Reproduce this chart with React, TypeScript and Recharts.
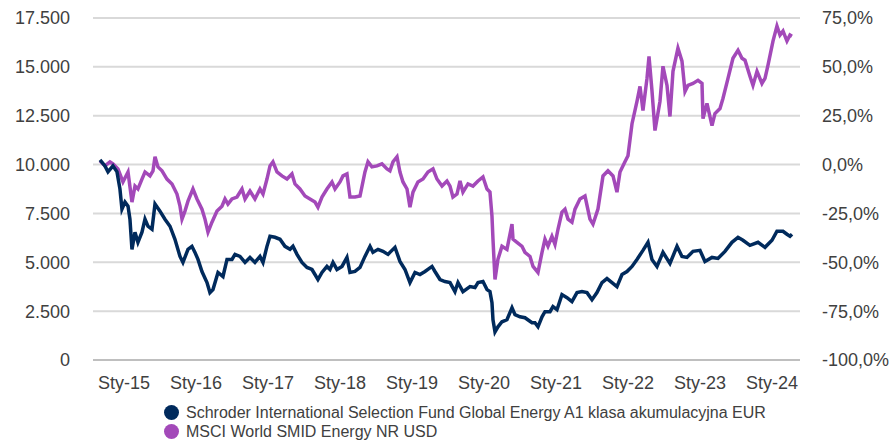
import React from 'react';
import { LineChart, Line, XAxis, YAxis, CartesianGrid } from 'recharts';

// Schroder fund: value of 10 000 invested, [decimal year, value]
const fundPoints: [number, number][] = [
  [2014.667, 10243], [2014.736, 9934], [2014.778, 9625], [2014.847, 9934], [2014.903, 9625],
  [2014.944, 8750], [2014.972, 7721], [2015.014, 8081], [2015.056, 7875], [2015.083, 7206],
  [2015.111, 5662], [2015.153, 6537], [2015.194, 6022], [2015.25, 6537], [2015.292, 7206],
  [2015.333, 6846], [2015.389, 6691], [2015.431, 7978], [2015.5, 7618], [2015.569, 7206],
  [2015.639, 6846], [2015.708, 6176], [2015.778, 5301], [2015.819, 4993], [2015.889, 5662],
  [2015.944, 5816], [2015.986, 5507], [2016.028, 5147], [2016.083, 4529], [2016.153, 3963],
  [2016.194, 3448], [2016.236, 3603], [2016.306, 4478], [2016.375, 4272], [2016.431, 5147],
  [2016.5, 5147], [2016.542, 5404], [2016.611, 5301], [2016.681, 4993], [2016.75, 5250],
  [2016.819, 4993], [2016.889, 5301], [2016.931, 4993], [2016.986, 5816], [2017.028, 6331],
  [2017.097, 6279], [2017.167, 6176], [2017.236, 5816], [2017.306, 5662], [2017.347, 5816],
  [2017.403, 5404], [2017.472, 4993], [2017.542, 4735], [2017.611, 4632], [2017.653, 4375],
  [2017.694, 4118], [2017.75, 4478], [2017.819, 4787], [2017.861, 4632], [2017.903, 4993],
  [2017.958, 4632], [2018.028, 4787], [2018.097, 5250], [2018.139, 4478], [2018.208, 4529],
  [2018.278, 4735], [2018.347, 5301], [2018.417, 5816], [2018.458, 5507], [2018.528, 5662],
  [2018.597, 5559], [2018.667, 5404], [2018.694, 5507], [2018.764, 5765], [2018.833, 5044],
  [2018.903, 4632], [2018.972, 3963], [2019.042, 4478], [2019.111, 4375], [2019.181, 4529],
  [2019.278, 4787], [2019.319, 4529], [2019.389, 4118], [2019.458, 4015], [2019.528, 3963],
  [2019.597, 3500], [2019.639, 3963], [2019.708, 3500], [2019.806, 3757], [2019.875, 3706],
  [2019.917, 3963], [2019.986, 4015], [2020.042, 3603], [2020.083, 3500], [2020.111, 2934],
  [2020.125, 2059], [2020.153, 1441], [2020.194, 1699], [2020.25, 1956], [2020.319, 2059],
  [2020.389, 2676], [2020.431, 2316], [2020.5, 2213], [2020.569, 2162], [2020.667, 1904],
  [2020.708, 1904], [2020.75, 1699], [2020.806, 2213], [2020.847, 2471], [2020.917, 2471],
  [2020.958, 2728], [2021.014, 2574], [2021.083, 3346], [2021.153, 3191], [2021.222, 2985],
  [2021.292, 3448], [2021.361, 3500], [2021.431, 3448], [2021.5, 3088], [2021.569, 3448],
  [2021.639, 3963], [2021.708, 4169], [2021.778, 3963], [2021.847, 3757], [2021.917, 4375],
  [2021.986, 4529], [2022.056, 4787], [2022.125, 5147], [2022.208, 5610], [2022.278, 6022],
  [2022.333, 5147], [2022.403, 4787], [2022.486, 5507], [2022.583, 4941], [2022.681, 5816],
  [2022.75, 5301], [2022.819, 5250], [2022.903, 5559], [2023.0, 5610], [2023.069, 5044],
  [2023.167, 5250], [2023.25, 5198], [2023.347, 5559], [2023.444, 6022], [2023.528, 6279],
  [2023.597, 6125], [2023.694, 5868], [2023.806, 6022], [2023.903, 5765], [2024.0, 6125],
  [2024.069, 6588], [2024.153, 6588], [2024.208, 6434], [2024.25, 6331], [2024.278, 6434],
];

// MSCI World SMID Energy: cumulative return in %, [decimal year, pct]
const indexPoints: [number, number][] = [
  [2014.667, 1.9], [2014.736, -0.7], [2014.806, 1.4], [2014.847, 0.4], [2014.917, -2.2],
  [2014.986, -8.9], [2015.042, -4.8], [2015.056, -3.8], [2015.111, -19.2], [2015.153, -11.0],
  [2015.194, -12.5], [2015.25, -7.4], [2015.292, -3.8], [2015.361, -5.8], [2015.403, -3.2],
  [2015.431, 4.0], [2015.472, -1.2], [2015.528, -3.2], [2015.597, -7.4], [2015.667, -9.9],
  [2015.736, -15.1], [2015.778, -21.3], [2015.806, -27.9], [2015.847, -23.8], [2015.889, -18.7],
  [2015.958, -12.5], [2016.014, -17.6], [2016.083, -22.8], [2016.125, -27.9], [2016.167, -34.6],
  [2016.222, -29.5], [2016.292, -23.8], [2016.361, -21.3], [2016.403, -17.6], [2016.444, -20.2],
  [2016.5, -17.6], [2016.569, -16.6], [2016.639, -12.5], [2016.681, -17.6], [2016.75, -13.5],
  [2016.819, -17.6], [2016.889, -12.5], [2016.931, -15.1], [2016.986, -7.4], [2017.028, -0.7],
  [2017.069, 1.4], [2017.125, -3.8], [2017.194, -5.8], [2017.264, -7.4], [2017.333, -4.8],
  [2017.375, -9.9], [2017.444, -12.5], [2017.514, -16.1], [2017.583, -17.6], [2017.653, -19.2],
  [2017.694, -21.8], [2017.75, -16.6], [2017.819, -12.5], [2017.889, -8.9], [2017.931, -12.5],
  [2018.0, -8.9], [2018.042, -5.8], [2018.097, -4.8], [2018.139, -16.6], [2018.208, -16.6],
  [2018.278, -16.1], [2018.347, -3.8], [2018.389, 1.4], [2018.444, -1.2], [2018.514, -0.7],
  [2018.583, 0.4], [2018.653, -2.2], [2018.694, -3.2], [2018.736, 1.4], [2018.792, 4.0],
  [2018.833, -3.8], [2018.875, -8.9], [2018.931, -12.5], [2018.972, -21.8], [2019.014, -14.1],
  [2019.083, -8.9], [2019.153, -7.4], [2019.222, -3.8], [2019.292, -2.2], [2019.347, -7.4],
  [2019.417, -11.0], [2019.486, -8.4], [2019.528, -11.0], [2019.569, -16.6], [2019.625, -15.1],
  [2019.667, -8.4], [2019.708, -14.1], [2019.778, -9.9], [2019.847, -11.0], [2019.917, -8.4],
  [2019.986, -6.3], [2020.042, -12.5], [2020.083, -14.1], [2020.111, -26.4], [2020.125, -38.2],
  [2020.153, -58.8], [2020.194, -48.5], [2020.25, -41.8], [2020.319, -43.4], [2020.389, -30.5],
  [2020.403, -38.2], [2020.458, -39.8], [2020.528, -41.8], [2020.569, -44.9], [2020.639, -47.0],
  [2020.681, -52.1], [2020.75, -55.2], [2020.806, -44.9], [2020.847, -38.2], [2020.889, -41.8],
  [2020.944, -36.7], [2020.986, -40.8], [2021.028, -33.1], [2021.083, -24.3], [2021.125, -22.8],
  [2021.167, -27.9], [2021.222, -29.5], [2021.264, -22.8], [2021.333, -17.6], [2021.403, -16.1],
  [2021.472, -27.9], [2021.514, -30.5], [2021.583, -22.8], [2021.653, -5.8], [2021.722, -3.2],
  [2021.792, -5.8], [2021.847, -14.1], [2021.889, -3.8], [2021.958, 1.4], [2022.0, 4.5],
  [2022.056, 20.9], [2022.125, 32.3], [2022.167, 40.0], [2022.208, 27.7], [2022.264, 44.1],
  [2022.292, 55.4], [2022.333, 37.9], [2022.375, 17.4], [2022.444, 32.3], [2022.486, 50.3],
  [2022.542, 40.5], [2022.583, 24.6], [2022.625, 47.7], [2022.694, 59.6], [2022.75, 52.9],
  [2022.792, 37.4], [2022.833, 40.5], [2022.903, 41.5], [2022.972, 43.1], [2023.028, 41.5],
  [2023.042, 23.5], [2023.097, 31.3], [2023.167, 19.9], [2023.208, 26.1], [2023.278, 28.7],
  [2023.319, 33.8], [2023.389, 44.1], [2023.458, 54.4], [2023.528, 58.5], [2023.583, 54.4],
  [2023.625, 53.4], [2023.694, 45.2], [2023.736, 40.5], [2023.792, 47.7], [2023.861, 41.5],
  [2023.903, 44.1], [2023.944, 50.8], [2024.014, 63.2], [2024.069, 70.9], [2024.111, 66.3],
  [2024.153, 68.3], [2024.208, 63.2], [2024.25, 66.3], [2024.278, 65.7],
];

const yearTicks = [2015, 2016, 2017, 2018, 2019, 2020, 2021, 2022, 2023, 2024];
const leftTicks = [0, 2500, 5000, 7500, 10000, 12500, 15000, 17500];
const rightTicks = [-100, -75, -50, -25, 0, 25, 50, 75];

const fundName = 'Schroder International Selection Fund Global Energy A1 klasa akumulacyjna EUR';
const indexName = 'MSCI World SMID Energy NR USD';

const NAVY = '#002a5c';
const PURPLE = '#a349b9';
const FONT = '"Liberation Sans", Arial, sans-serif';

const fundData = fundPoints.map(([t, v]) => ({ t, fund: v }));
const indexData = indexPoints.map(([t, p]) => ({ t, index: p }));

const fmtLeft = (v: number) =>
  v === 0 ? '0' : `${Math.floor(v / 1000)}.${String(v % 1000).padStart(3, '0')}`;
const fmtRight = (v: number) => `${v.toFixed(1).replace('.', ',')}%`;
const fmtYear = (v: number) => `Sty-${String(v).slice(2)}`;

const App: React.FC = () => {
  const tickStyle = { fontSize: 18, fill: '#404040', fontFamily: FONT };
  return (
    <div style={{ position: 'absolute', left: 0, top: 0, width: 895, height: 442, background: '#fff', fontFamily: FONT }}>
      <LineChart width={895} height={442} margin={{ top: 18, right: 0, left: 0, bottom: 42 }}>
        <CartesianGrid yAxisId="left" vertical={false} stroke="#d9d9d9" strokeWidth={2} />
        <XAxis
          dataKey="t"
          type="number"
          domain={[2014.667, 2024.278]}
          ticks={yearTicks}
          tickFormatter={fmtYear}
          allowDuplicatedCategory={false}
          padding={{ left: 7, right: 8 }}
          height={40}
          tickLine={false}
          tickSize={0}
          tickMargin={16}
          axisLine={{ stroke: '#bfbfbf', strokeWidth: 2 }}
          tick={tickStyle}
        />
        <YAxis
          yAxisId="left"
          domain={[0, 17500]}
          ticks={leftTicks}
          tickFormatter={fmtLeft}
          width={93}
          axisLine={false}
          tickLine={false}
          tickSize={0}
          tickMargin={23}
          tick={tickStyle}
        />
        <YAxis
          yAxisId="right"
          orientation="right"
          domain={[-100, 75]}
          ticks={rightTicks}
          tickFormatter={fmtRight}
          width={95}
          axisLine={false}
          tickLine={false}
          tickSize={0}
          tickMargin={22}
          tick={{ ...tickStyle, textAnchor: 'start' }}
        />
        <Line
          yAxisId="right"
          data={indexData}
          dataKey="index"
          stroke={PURPLE}
          strokeWidth={3.5}
          dot={false}
          isAnimationActive={false}
        />
        <Line
          yAxisId="left"
          data={fundData}
          dataKey="fund"
          stroke={NAVY}
          strokeWidth={3.5}
          dot={false}
          isAnimationActive={false}
        />
      </LineChart>
      <div style={{ position: 'absolute', left: 164, top: 403, fontSize: 16, color: '#404040', lineHeight: '19px' }}>
        <div style={{ display: 'flex', alignItems: 'center' }}>
          <span style={{ width: 15, height: 15, borderRadius: '50%', background: NAVY, marginRight: 7, display: 'inline-block' }} />
          {fundName}
        </div>
        <div style={{ display: 'flex', alignItems: 'center' }}>
          <span style={{ width: 15, height: 15, borderRadius: '50%', background: PURPLE, marginRight: 7, display: 'inline-block' }} />
          {indexName}
        </div>
      </div>
    </div>
  );
};

export default App;
